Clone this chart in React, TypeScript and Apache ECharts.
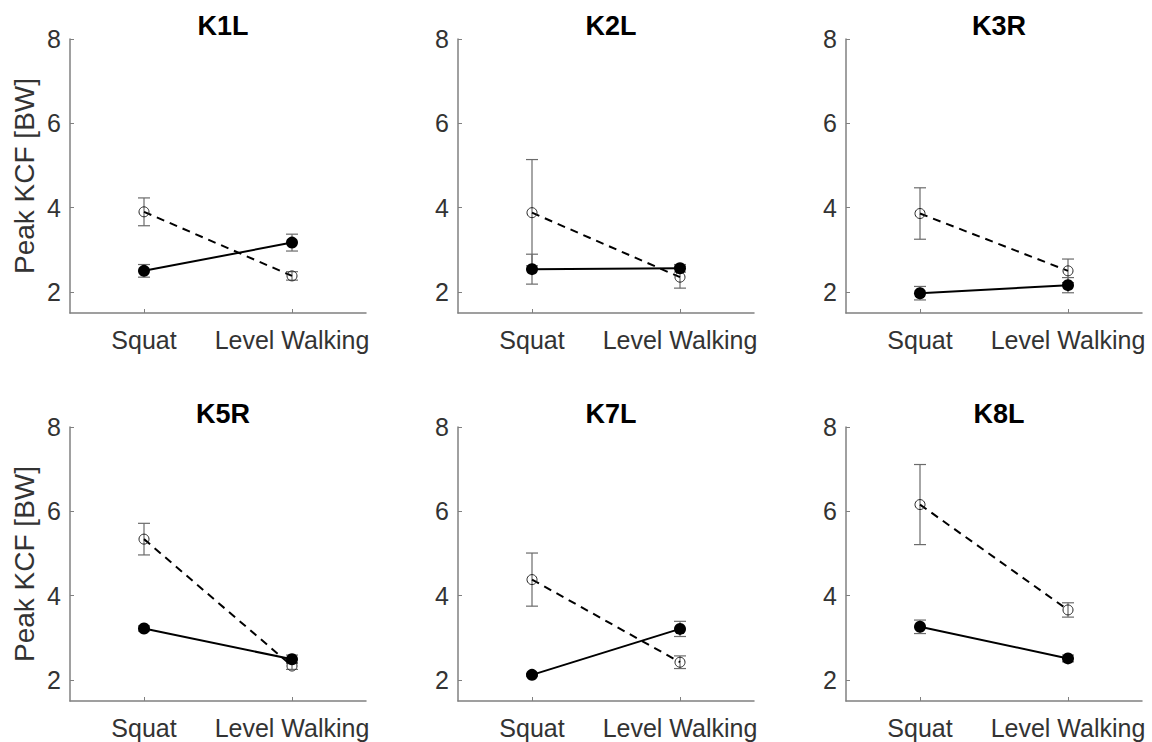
import React, { useEffect, useRef } from "react";
import * as echarts from "echarts";

const panelTitles = ["K1L", "K2L", "K3R", "K5R", "K7L", "K8L"];
const categories = ["Squat", "Level Walking"];
const yTicks = [2, 4, 6, 8];

// [Squat, Level Walking] per panel
const filledMean = [
  [2.5, 3.17],
  [2.54, 2.56],
  [1.97, 2.16],
  [3.22, 2.49],
  [2.12, 3.21],
  [3.26, 2.51],
];
const filledErr = [
  [0.15, 0.2],
  [0.355, 0.09],
  [0.16, 0.18],
  [0.06, 0.1],
  [0.03, 0.18],
  [0.16, 0.08],
];
const openMean = [
  [3.9, 2.38],
  [3.88, 2.35],
  [3.86, 2.5],
  [5.34, 2.33],
  [4.38, 2.42],
  [6.16, 3.66],
];
const openErr = [
  [0.33, 0.1],
  [1.26, 0.26],
  [0.61, 0.28],
  [0.375, 0.08],
  [0.63, 0.15],
  [0.95, 0.17],
];

const FONT = "Liberation Sans, Arial, sans-serif";
const colLeft = [70, 458, 846];
const rowTop = [39, 427];
const GW = 296;
const GH = 274;

function errorRenderItem(params: any, api: any) {
  const x = api.value(0);
  const lo = api.coord([x, api.value(1)]);
  const hi = api.coord([x, api.value(2)]);
  const hw = 6;
  const style = { stroke: "#6b6b6b", lineWidth: 1.2 };
  return {
    type: "group",
    children: [
      { type: "line", shape: { x1: lo[0], y1: lo[1], x2: hi[0], y2: hi[1] }, style },
      { type: "line", shape: { x1: lo[0] - hw, y1: lo[1], x2: lo[0] + hw, y2: lo[1] }, style },
      { type: "line", shape: { x1: hi[0] - hw, y1: hi[1], x2: hi[0] + hw, y2: hi[1] }, style },
    ],
  };
}

export default function App() {
  const ref = useRef<HTMLDivElement>(null);
  useEffect(() => {
    if (!ref.current) return;
    const chart = echarts.init(ref.current, undefined, { renderer: "svg" });
    const grids: any[] = [];
    const xAxes: any[] = [];
    const yAxes: any[] = [];
    const titles: any[] = [];
    const series: any[] = [];
    panelTitles.forEach((t, i) => {
      const col = i % 3;
      const row = Math.floor(i / 3);
      const left = colLeft[col];
      const top = rowTop[row];
      grids.push({ left, top, width: GW, height: GH });
      titles.push({
        text: t,
        left: left + GW / 2,
        top: top - 32,
        textAlign: "center",
        textStyle: { fontFamily: FONT, fontSize: 27, fontWeight: "bold", color: "#000" },
      });
      xAxes.push({
        type: "category",
        gridIndex: i,
        data: categories,
        boundaryGap: true,
        axisLine: { show: true, lineStyle: { color: "#808080", width: 1.5 } },
        axisTick: { show: true, inside: true, length: 4, alignWithLabel: true, lineStyle: { color: "#808080" } },
        axisLabel: { fontFamily: FONT, fontSize: 25, color: "#333", margin: 14, interval: 0, hideOverlap: false },
        splitLine: { show: false },
      });
      yAxes.push({
        type: "value",
        gridIndex: i,
        min: 1.5,
        max: 8,
        name: col === 0 ? "Peak KCF [BW]" : "",
        nameLocation: "middle",
        nameGap: 32,
        nameTextStyle: { fontFamily: FONT, fontSize: 28, color: "#333" },
        axisLine: { show: true, lineStyle: { color: "#808080", width: 1.5 } },
        axisTick: { show: true, inside: true, length: 4, customValues: yTicks, lineStyle: { color: "#808080" } },
        axisLabel: { fontFamily: FONT, fontSize: 25, color: "#333", margin: 9, customValues: yTicks },
        splitLine: { show: false },
      });
      const errData = [
        [0, filledMean[i][0] - filledErr[i][0], filledMean[i][0] + filledErr[i][0]],
        [1, filledMean[i][1] - filledErr[i][1], filledMean[i][1] + filledErr[i][1]],
        [0, openMean[i][0] - openErr[i][0], openMean[i][0] + openErr[i][0]],
        [1, openMean[i][1] - openErr[i][1], openMean[i][1] + openErr[i][1]],
      ];
      series.push({
        type: "custom",
        xAxisIndex: i,
        yAxisIndex: i,
        renderItem: errorRenderItem,
        data: errData,
        z: 1,
        silent: true,
      });
      series.push({
        type: "line",
        xAxisIndex: i,
        yAxisIndex: i,
        data: openMean[i],
        symbol: "circle",
        symbolSize: 10,
        lineStyle: { color: "#000", width: 2, type: [8, 6] },
        itemStyle: { color: "rgba(0,0,0,0)", borderColor: "#222", borderWidth: 1 },
        z: 2,
      });
      series.push({
        type: "line",
        xAxisIndex: i,
        yAxisIndex: i,
        data: filledMean[i],
        symbol: "circle",
        symbolSize: 12,
        lineStyle: { color: "#000", width: 2 },
        itemStyle: { color: "#000", borderColor: "#000", borderWidth: 0 },
        z: 3,
      });
    });
    chart.setOption({
      animation: false,
      backgroundColor: "#fff",
      title: titles,
      grid: grids,
      xAxis: xAxes,
      yAxis: yAxes,
      series,
    });
    return () => chart.dispose();
  }, []);
  return (
    <div
      ref={ref}
      style={{ position: "absolute", left: 0, top: 0, width: 1152, height: 742 }}
    />
  );
}
